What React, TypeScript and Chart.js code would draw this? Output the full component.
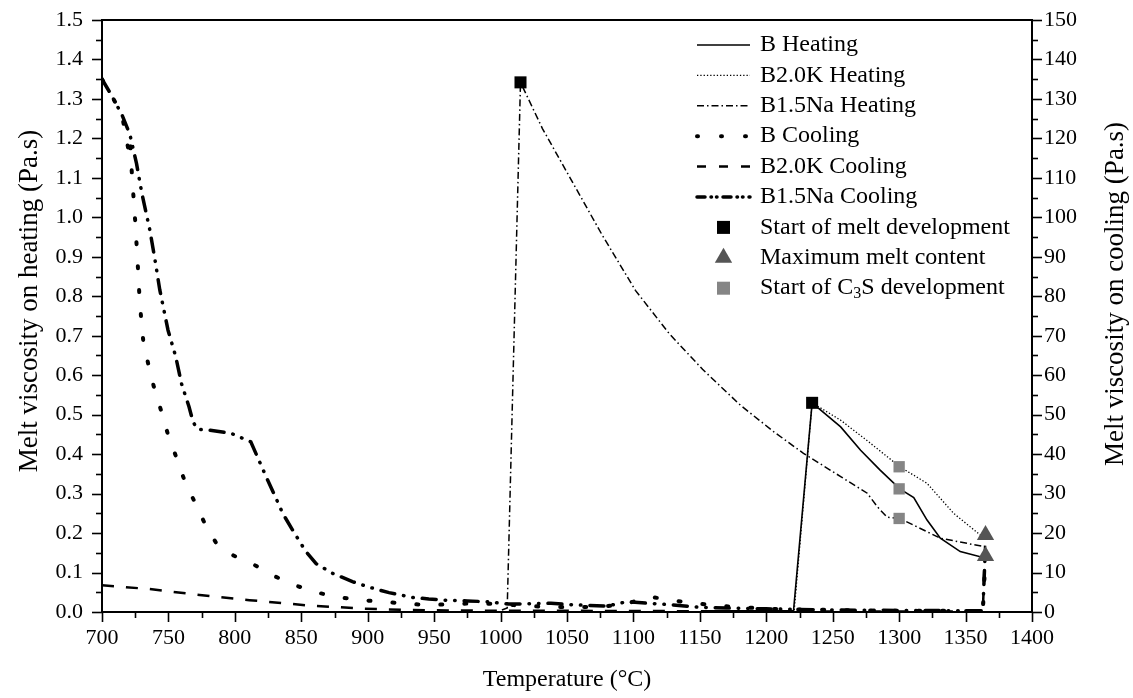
import React, { useEffect, useRef } from "react";
import { Chart, registerables } from "chart.js";

Chart.register(...registerables);

// ---------- data (temperature in °C) ----------
// Heating curves: left axis (Pa.s)
const bHeatingT = [1152, 1220.5, 1234.5, 1256, 1271, 1285.5, 1300.5, 1311, 1321, 1331, 1346, 1361, 1365];
const bHeatingV = [0.003, 0.003, 0.53, 0.469, 0.41, 0.36, 0.312, 0.29, 0.233, 0.187, 0.153, 0.14, 0.142];

const b20kHeatingT = [1152, 1221, 1234.5, 1256, 1277.5, 1300.5, 1321, 1341, 1364, 1365];
const b20kHeatingV = [0.003, 0.003, 0.53, 0.486, 0.43, 0.368, 0.326, 0.25, 0.187, 0.195];

const b15naHeatingT = [1001, 1005, 1015, 1031.5, 1051.5, 1076.5, 1101.5, 1127, 1152, 1180.5, 1205.5, 1228, 1256, 1276, 1283.5, 1291, 1300.5, 1331, 1365];
const b15naHeatingV = [0.005, 0.01, 1.342, 1.225, 1.105, 0.955, 0.815, 0.705, 0.615, 0.524, 0.457, 0.402, 0.343, 0.301, 0.267, 0.24, 0.237, 0.187, 0.165];

// Cooling curves: right axis (Pa.s)
const bCoolingT = [700, 707, 715, 719.7, 721, 722.5, 725, 727, 728, 729.3, 731, 734.7, 739, 744.3, 749.3, 755.5, 761.5, 769, 776.7, 786, 799, 814.8, 829, 845, 861, 878.5, 896, 915, 932, 948.5, 965, 980, 1000, 1020, 1050, 1075, 1094, 1112, 1128, 1147, 1166, 1183, 1200, 1250, 1300, 1340, 1363, 1365];
const bCoolingV = [135, 131, 126, 117.5, 120.4, 111, 99, 87.5, 81.1, 75.1, 68.9, 63, 57.1, 51.2, 45.4, 39.6, 33.9, 28.4, 22.9, 17.4, 14.3, 11.9, 9.2, 6.8, 5.0, 3.7, 3.0, 2.5, 2.0, 1.8, 2.0, 2.2, 2.0, 1.5, 1.2, 1.3, 2.0, 3.9, 3.0, 2.2, 1.5, 1.2, 0.8, 0.5, 0.3, 0.3, 0.2, 14];

const b20kCoolingT = [700, 736, 773.5, 811, 853.5, 896, 933.5, 960, 1000, 1050, 1100, 1150, 1200, 1250, 1300, 1363, 1365];
const b20kCoolingV = [6.8, 5.8, 4.3, 3.0, 1.7, 0.85, 0.5, 0.4, 0.3, 0.3, 0.25, 0.2, 0.15, 0.1, 0.1, 0.1, 20];

const b15naCoolingT = [700, 707, 715, 721, 726, 730, 736, 740, 743.5, 749.7, 755.5, 759.8, 765.5, 768.5, 771.8, 780.5, 797, 812, 817, 823.5, 831, 836, 845, 853.5, 861, 873.5, 888.5, 901, 916, 933.5, 946, 958.5, 975, 990, 1006, 1038, 1056, 1080, 1095, 1112, 1130, 1150, 1170, 1200, 1250, 1300, 1363, 1365];
const b15naCoolingV = [135, 131, 126, 121, 113.6, 106.1, 96.8, 89, 81.6, 71.4, 64.7, 57.9, 52, 48.2, 46.3, 46.1, 45.3, 43.1, 39.3, 34.3, 28.8, 25, 19.9, 15.3, 12.3, 9.8, 7.7, 6.3, 4.9, 3.7, 3.3, 3.0, 2.8, 2.6, 2.0, 2.2, 1.8, 1.5, 2.6, 2.2, 1.8, 1.2, 1.0, 0.8, 0.5, 0.4, 0.3, 17];

// Markers (left axis)
const meltStartT = [1015, 1234.5];
const meltStartV = [1.342, 0.53];
const maxMeltT = [1365, 1365];
const maxMeltV = [0.195, 0.142];
const c3sStartT = [1300, 1300, 1300];
const c3sStartV = [0.368, 0.312, 0.237];

// Axes
const xTicks = [700, 750, 800, 850, 900, 950, 1000, 1050, 1100, 1150, 1200, 1250, 1300, 1350, 1400];
const yLeftTicks = [0, 0.1, 0.2, 0.3, 0.4, 0.5, 0.6, 0.7, 0.8, 0.9, 1.0, 1.1, 1.2, 1.3, 1.4, 1.5];
const yRightTicks = [0, 10, 20, 30, 40, 50, 60, 70, 80, 90, 100, 110, 120, 130, 140, 150];

const FONT = "'Liberation Serif', 'Times New Roman', serif";
const LEFT_TITLE = "Melt viscosity on heating (Pa.s)";
const RIGHT_TITLE = "Melt viscosity on cooling (Pa.s)";

const pts = (t: number[], v: number[]) => t.map((x, i) => ({ x, y: v[i] }));

const legendEntries = [
  { label: "B Heating", ds: 0 },
  { label: "B2.0K Heating", ds: 1 },
  { label: "B1.5Na Heating", ds: 2 },
  { label: "B Cooling", ds: 3 },
  { label: "B2.0K Cooling", ds: 4 },
  { label: "B1.5Na Cooling", ds: 5 },
  { label: "Start of melt development", ds: 6 },
  { label: "Maximum melt content", ds: 7 },
  { label: "Start of C|3|S development", ds: 8 },
];

const decoPlugin = {
  id: "deco",
  afterDraw(chart: any) {
    const { ctx, chartArea: a, scales } = chart;
    ctx.save();
    ctx.strokeStyle = "#000";
    ctx.setLineDash([]);
    ctx.lineCap = "butt";
    ctx.lineWidth = 2;
    ctx.strokeRect(a.left, a.top, a.right - a.left, a.bottom - a.top);
    ctx.lineWidth = 1.6;
    const line = (x1: number, y1: number, x2: number, y2: number) => {
      ctx.beginPath();
      ctx.moveTo(x1, y1);
      ctx.lineTo(x2, y2);
      ctx.stroke();
    };
    for (let i = 0; i <= 28; i++) {
      const t = 700 + i * 25;
      const px = Math.round(scales.x.getPixelForValue(t)) + 0.5;
      line(px, a.bottom, px, a.bottom + (i % 2 === 0 ? 10 : 6));
    }
    for (let i = 0; i <= 30; i++) {
      const py = Math.round(scales.y.getPixelForValue(i * 0.05)) + 0.5;
      line(a.left - (i % 2 === 0 ? 10 : 6), py, a.left, py);
      const py2 = Math.round(scales.y1.getPixelForValue(i * 5)) + 0.5;
      line(a.right, py2, a.right + (i % 2 === 0 ? 10 : 6), py2);
    }

    // axis titles (both read bottom-to-top)
    ctx.fillStyle = "#000";
    ctx.font = `27px ${FONT}`;
    ctx.textAlign = "center";
    ctx.textBaseline = "middle";
    ctx.save();
    ctx.translate(30, 301);
    ctx.rotate(-Math.PI / 2);
    ctx.fillText(LEFT_TITLE, 0, 0);
    ctx.restore();
    ctx.save();
    ctx.translate(1116, 294);
    ctx.rotate(-Math.PI / 2);
    ctx.fillText(RIGHT_TITLE, 0, 0);
    ctx.restore();

    // legend
    const x0 = 697, x1 = 750, tx = 760;
    const fontSize = 24;
    legendEntries.forEach((e, i) => {
      const y = 45 + i * 30.4;
      const ds = chart.data.datasets[e.ds];
      ctx.save();
      if (ds.showLine === false) {
        const cx = (x0 + x1) / 2;
        ctx.fillStyle = ds.pointBackgroundColor;
        if (ds.pointStyle === "triangle") {
          const r = 10;
          ctx.beginPath();
          ctx.moveTo(cx, y - r);
          ctx.lineTo(cx + r * 0.866, y + r * 0.5);
          ctx.lineTo(cx - r * 0.866, y + r * 0.5);
          ctx.closePath();
          ctx.fill();
        } else {
          const s = 13;
          ctx.fillRect(cx - s / 2, y - s / 2, s, s);
        }
      } else {
        ctx.strokeStyle = "#000";
        ctx.lineWidth = ds.borderWidth;
        ctx.lineCap = ds.borderCapStyle || "butt";
        ctx.setLineDash(ds.legendDash || ds.borderDash || []);
        line(x0, y, x1, y);
      }
      ctx.restore();
      ctx.fillStyle = "#000";
      ctx.textBaseline = "middle";
      ctx.textAlign = "left";
      const parts = e.label.split("|");
      let cx = tx;
      parts.forEach((p, j) => {
        const sub = j % 2 === 1;
        ctx.font = `${sub ? 16 : fontSize}px ${FONT}`;
        ctx.fillText(p, cx, sub ? y + 6 : y);
        cx += ctx.measureText(p).width;
      });
    });
    ctx.restore();
  },
};

const noPadY = (w: number) => (s: any) => {
  s.width = w;
  s.paddingTop = 0;
  s.paddingBottom = 0;
};

export default function App() {
  const ref = useRef<HTMLCanvasElement | null>(null);
  useEffect(() => {
    document.body.style.margin = "0";
    const canvas = ref.current!;
    const common = { pointRadius: 0, fill: false, tension: 0, borderColor: "#000", order: 1 };
    const chart = new Chart(canvas, {
      type: "line",
      data: {
        datasets: [
          { ...common, label: "B Heating", data: pts(bHeatingT, bHeatingV), yAxisID: "y", borderWidth: 1.6, borderDash: [] },
          { ...common, label: "B2.0K Heating", data: pts(b20kHeatingT, b20kHeatingV), yAxisID: "y", borderWidth: 1.3, borderDash: [1.3, 2] },
          { ...common, label: "B1.5Na Heating", data: pts(b15naHeatingT, b15naHeatingV), yAxisID: "y", borderWidth: 1.5, borderDash: [7, 3, 1.5, 3] },
          { ...common, label: "B Cooling", data: pts(bCoolingT, bCoolingV), yAxisID: "y1", borderWidth: 4, borderDash: [2, 22], borderCapStyle: "round", legendDash: [1, 23] },
          { ...common, label: "B2.0K Cooling", data: pts(b20kCoolingT, b20kCoolingV), yAxisID: "y1", borderWidth: 2.5, borderDash: [12, 12], legendDash: [9, 13] },
          { ...common, label: "B1.5Na Cooling", data: pts(b15naCoolingT, b15naCoolingV), yAxisID: "y1", borderWidth: 3.5, borderDash: [14, 9, 0.5, 9, 0.5, 9], borderCapStyle: "round", legendDash: [8, 6, 0.5, 5, 0.5, 6] },
          { label: "Start of melt development", data: pts(meltStartT, meltStartV), yAxisID: "y", showLine: false, pointStyle: "rect", pointRadius: 8.5, pointBackgroundColor: "#000", pointBorderWidth: 0, borderColor: "#000", order: 0 },
          { label: "Maximum melt content", data: pts(maxMeltT, maxMeltV), yAxisID: "y", showLine: false, pointStyle: "triangle", pointRadius: 10, pointBackgroundColor: "#555555", pointBorderWidth: 0, borderColor: "#555555", order: 0 },
          { label: "Start of C3S development", data: pts(c3sStartT, c3sStartV), yAxisID: "y", showLine: false, pointStyle: "rect", pointRadius: 8, pointBackgroundColor: "#858585", pointBorderWidth: 0, borderColor: "#858585", order: 0 },
        ] as any,
      },
      options: {
        animation: false,
        responsive: false,
        devicePixelRatio: 1,
        layout: { padding: { top: 20, left: 0, right: 0, bottom: 0 } },
        plugins: { legend: { display: false }, tooltip: { enabled: false }, title: { display: false } },
        scales: {
          x: {
            type: "linear",
            min: 700,
            max: 1400,
            grid: { display: false, drawTicks: false },
            border: { display: false },
            afterBuildTicks: (s: any) => { s.ticks = xTicks.map((v) => ({ value: v })); },
            afterFit: (s: any) => { s.height = 86; s.paddingLeft = 0; s.paddingRight = 0; },
            ticks: { color: "#000", padding: 13, maxRotation: 0, autoSkip: false, font: { family: FONT, size: 22 }, callback: (v: any) => String(v) },
            title: { display: true, text: "Temperature (°C)", color: "#000", font: { family: FONT, size: 24 }, padding: { top: 0, bottom: 4 } },
          },
          y: {
            type: "linear",
            position: "left",
            min: 0,
            max: 1.5,
            grid: { display: false, drawTicks: false },
            border: { display: false },
            afterBuildTicks: (s: any) => { s.ticks = yLeftTicks.map((v) => ({ value: v })); },
            afterFit: noPadY(102),
            ticks: { color: "#000", padding: 19, autoSkip: false, font: { family: FONT, size: 22 }, callback: (v: any) => Number(v).toFixed(1) },
          },
          y1: {
            type: "linear",
            position: "right",
            min: 0,
            max: 150,
            grid: { display: false, drawTicks: false },
            border: { display: false },
            afterBuildTicks: (s: any) => { s.ticks = yRightTicks.map((v) => ({ value: v })); },
            afterFit: noPadY(101),
            ticks: { color: "#000", padding: 12, autoSkip: false, font: { family: FONT, size: 22 }, callback: (v: any) => String(v) },
          },
        },
      },
      plugins: [decoPlugin],
    });
    return () => chart.destroy();
  }, []);
  return (
    <div style={{ width: 1133, height: 698, background: "#fff" }}>
      <canvas ref={ref} width={1133} height={698} style={{ display: "block" }} />
    </div>
  );
}
